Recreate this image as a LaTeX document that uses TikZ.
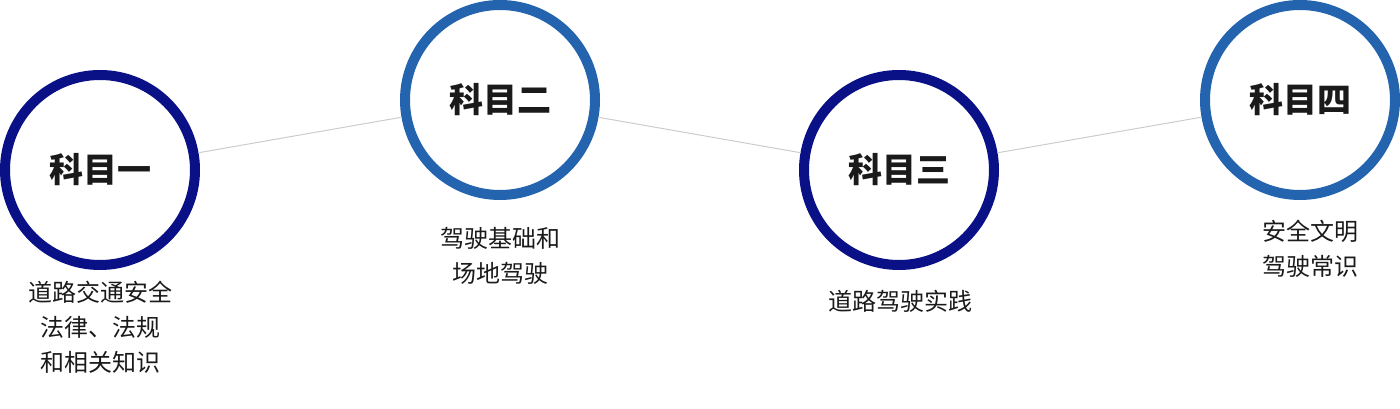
\documentclass[tikz,border=0pt]{standalone}
\usepackage{fontspec}
\setmainfont{Noto Sans CJK SC}
\definecolor{navy}{HTML}{0A1187}
\definecolor{azure}{HTML}{2463AE}
\definecolor{txt}{HTML}{1A1A1A}
\begin{document}
\begin{tikzpicture}[x=0.75pt,y=-0.75pt,
  ring/.style={circle,draw=#1,line width=7.5pt,minimum size=142.5pt,fill=white,
    font=\fontsize{25.5}{28}\selectfont\bfseries,text=txt,inner sep=0pt},
  lbl/.style={align=center,font=\fontsize{18}{26.25}\selectfont,text=txt},
  link/.style={draw=black!20,line width=0.75pt}]
\useasboundingbox (0,0) rectangle (1400,409);
\node[ring=navy] (c1) at (100,170) {科目一};
\node[ring=azure] (c2) at (500,100) {科目二};
\node[ring=navy] (c3) at (899,170) {科目三};
\node[ring=azure] (c4) at (1300,100) {科目四};
\begin{scope}[on background layer/.try]
\end{scope}
\draw[link] (c1) -- (c2);
\draw[link] (c2) -- (c3);
\draw[link] (c3) -- (c4);
\node[lbl] (t1) at (100,327) {道路交通安全\\法律、法规\\和相关知识};
\node[lbl] (t2) at (500,256) {驾驶基础和\\场地驾驶};
\node[lbl] (t3) at (900,301) {道路驾驶实践};
\node[lbl] (t4) at (1310,249) {安全文明\\驾驶常识};
\end{tikzpicture}
\end{document}
